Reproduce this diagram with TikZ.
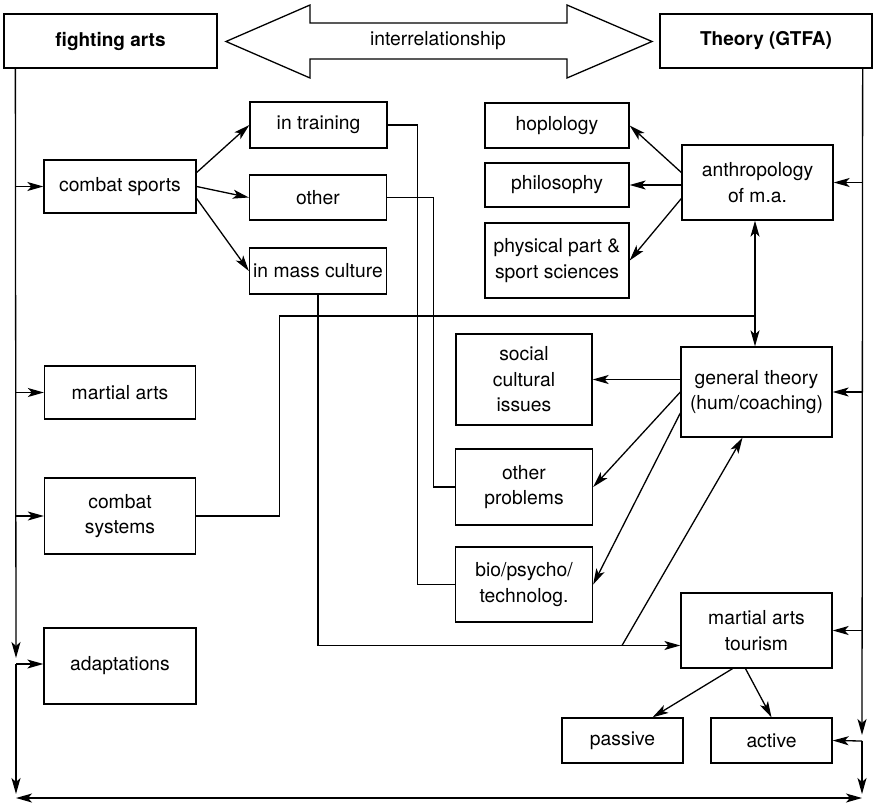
\documentclass[tikz,border=0pt]{standalone}
\usepackage{fontspec}
\setmainfont{TeX Gyre Heros}
\usetikzlibrary{arrows.meta}

\begin{document}
\begin{tikzpicture}[x=1pt, y=-1pt, >={Stealth[length=16pt, width=9pt, inset=4pt]},
    box/.style={draw, line width=1.3pt, inner sep=0pt, align=center, font=\fontsize{19.3}{25.5}\selectfont},
    head/.style={box, font=\fontsize{19}{22}\selectfont\bfseries},
    arr/.style={line width=1.3pt, ->},
    ln/.style={line width=1.3pt}]
    \useasboundingbox (0,0) rectangle (874,802);
    % top row
    \node[head, minimum width=213pt, minimum height=54pt] (fa) at (110.5,41) {fighting arts};
    \node[head, minimum width=212pt, minimum height=54pt] (th) at (766,41) {Theory (GTFA)};
    \draw[ln] (226,41.5) -- (310,5) -- (310,23) -- (567,23) -- (567,5) -- (652,41.5)
        -- (567,78) -- (567,59) -- (310,59) -- (310,78) -- cycle;
    \node[font=\fontsize{19.3}{22}\selectfont] (rel) at (438,41) {interrelationship};
    % left column
    \node[box, minimum width=152pt, minimum height=53pt] (cs) at (120,186.5) {combat sports};
    \node[box, minimum width=151pt, minimum height=53pt] (ma) at (120,392.5) {martial arts};
    \node[box, minimum width=151pt, minimum height=76pt] (csy) at (120,516) {combat\\systems};
    \node[box, minimum width=152pt, minimum height=76pt] (ad) at (120,666) {adaptations};
    \node[box, minimum width=137pt, minimum height=46pt] (tr) at (318.5,125) {in training};
    \node[box, minimum width=137pt, minimum height=45pt] (ot) at (318,197.5) {other};
    \node[box, minimum width=137pt, minimum height=46pt] (mc) at (318,271) {in mass culture};
    % middle column
    \node[box, minimum width=144pt, minimum height=45pt] (hop) at (557,125.5) {hoplology};
    \node[box, minimum width=144pt, minimum height=44pt] (phi) at (557,185) {philosophy};
    \node[box, minimum width=144pt, minimum height=75pt] (phy) at (557,260.5) {physical part \&\\sport sciences};
    \node[box, minimum width=136pt, minimum height=91pt] (soc) at (524,379.5) {social\\cultural\\issues};
    \node[box, minimum width=137pt, minimum height=76pt] (op) at (524,487) {other\\problems};
    \node[box, minimum width=137pt, minimum height=75pt] (bio) at (524,584.5) {bio/psycho/\\technolog.};
    \node[box, minimum width=121pt, minimum height=45pt] (pas) at (622.5,740.5) {passive};
    % right column
    \node[box, minimum width=151pt, minimum height=75pt] (ant) at (757.5,182.5) {anthropology\\of m.a.};
    \node[box, minimum width=151pt, minimum height=90pt] (gt) at (756.5,392) {general theory\\(hum/coaching)};
    \node[box, minimum width=151pt, minimum height=75pt] (mat) at (756.5,630.5) {martial arts\\tourism};
    \node[box, minimum width=121pt, minimum height=45pt] (act) at (771.5,740.5) {active};
    % trunks
    \coordinate (l1) at (16,664);
    \coordinate (l2) at (16,798);
    \coordinate (r1) at (862,741);
    \coordinate (r2) at (862,798);
    \draw[arr] ([xshift=12pt]fa.south west) -- ([yshift=6pt]l1);
    \draw[arr] (l1) -- (l1 -| ad.west);
    \draw[arr] (l1) -- ([yshift=4pt]l2);
    \draw[ln, <->] (l2) -- (r2);
    \draw[arr] ([xshift=-10pt]th.south east) -- ([yshift=6pt]r1);
    \draw[arr] (r1) -- (act.east);
    \draw[arr] (r1) -- ([yshift=4pt]r2);
    \foreach \n in {cs, ma, csy}
        \draw[arr] (\n.west -| l1) -- (\n.west);
    \foreach \n in {ant, gt, mat}
        \draw[arr] (\n.east -| r1) -- (\n.east);
    % combat sports
    \draw[arr] ([yshift=14pt]cs.east) -- (tr.west);
    \draw[arr] (cs.east) -- (ot.west);
    \draw[arr] ([yshift=-12pt]cs.east) -- (mc.west);
    \draw[ln] (tr.east) -- ++(30,0) |- (bio.west);
    \draw[ln] (ot.east) -- ++(46,0) |- (op.west);
    \coordinate (mj) at (622,645.5);
    \draw[arr] (mc.south) |- ([yshift=-15pt]mat.west);
    \draw[arr] (mj) -- ([xshift=-14pt]gt.south);
    % combat systems
    \coordinate (ag) at (755,316);
    \draw[ln] (csy.east) -- ++(83,0) |- (ag);
    \draw[arr] (ag) -- (ag |- ant.south);
    \draw[arr] (ag) -- (ag |- gt.north);
    % anthropology
    \draw[arr] ([yshift=10pt]ant.west) -- (hop.east);
    \draw[arr] (phi.east -| ant.west) -- (phi.east);
    \draw[arr] ([yshift=-16pt]ant.west) -- (phy.east);
    % general theory
    \draw[arr] (soc.east -| gt.west) -- (soc.east);
    \draw[arr] (gt.west) -- (op.east);
    \draw[arr] ([yshift=-21pt]gt.west) -- (bio.east);
    % tourism
    \draw[arr] ([xshift=-24pt]mat.south) -- ([xshift=30pt]pas.north);
    \draw[arr] ([xshift=-11pt]mat.south) -- (act.north);
\end{tikzpicture}
\end{document}
